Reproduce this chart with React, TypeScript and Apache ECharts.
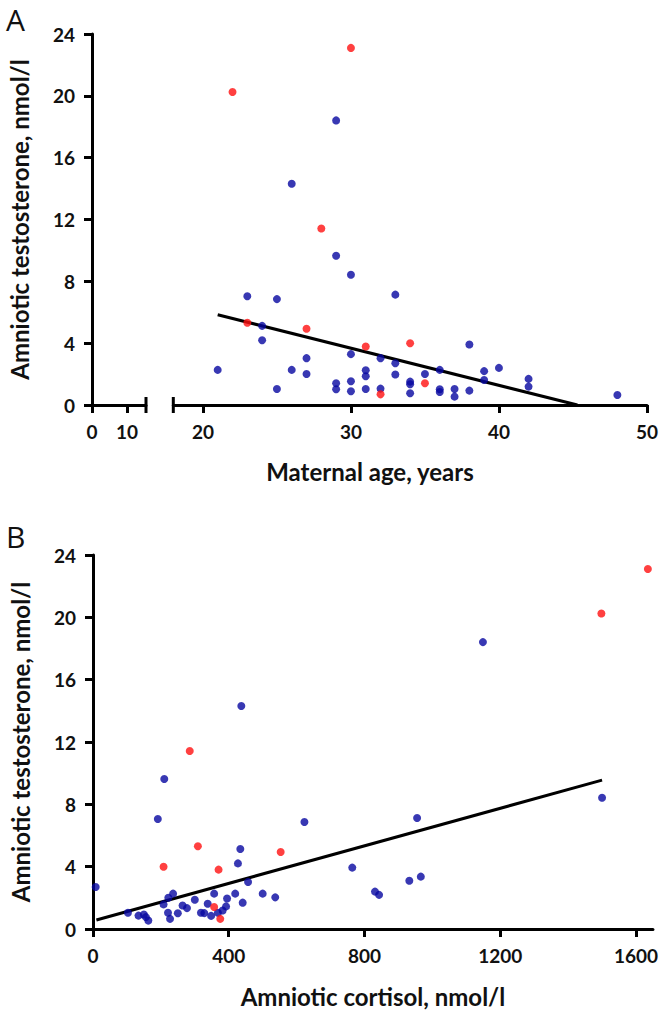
import React, { useEffect, useRef } from "react";
import * as echarts from "echarts";

// Panel A: maternal age (years) vs amniotic testosterone (nmol/l)
const ageBlue = [29, 26, 29, 30, 23, 25, 33, 24, 24, 21, 26, 27, 27, 25, 30, 29, 29, 30, 30, 31, 31, 31, 32, 32, 33, 33, 34, 34, 34, 35, 36, 36, 36, 37, 37, 38, 38, 39, 39, 40, 42, 42, 48];
const testBlueA = [18.41, 14.31, 9.66, 8.43, 7.03, 6.85, 7.14, 5.12, 4.19, 2.27, 2.27, 3.03, 2.01, 1.04, 3.29, 1.41, 1.02, 1.54, 0.89, 2.25, 1.86, 1.04, 3.03, 1.06, 2.7, 1.97, 1.51, 1.34, 0.76, 2.01, 2.27, 1.02, 0.84, 1.04, 0.54, 3.91, 0.93, 2.19, 1.62, 2.4, 1.69, 1.19, 0.65];
const ageRed = [22, 30, 28, 23, 27, 31, 34, 32, 35];
const testRedA = [20.25, 23.1, 11.42, 5.32, 4.93, 3.78, 4.0, 0.69, 1.41];
const regA = [[21.0, 5.84], [45.3, 0]];

// Panel B: amniotic cortisol (nmol/l) vs amniotic testosterone (nmol/l)
const cortBlue = [1149, 437, 210, 1500, 191, 623, 955, 434, 427, 764, 932, 966, 457, 8, 236, 357, 419, 500, 537, 222, 395, 300, 831, 843, 103, 134, 150, 156, 163, 208, 221, 227, 250, 264, 277, 318, 328, 338, 348, 368, 382, 392, 441];
const testBlueB = [18.41, 14.31, 9.63, 8.42, 7.06, 6.87, 7.12, 5.13, 4.21, 3.94, 3.1, 3.36, 3.02, 2.7, 2.27, 2.27, 2.27, 2.27, 2.03, 2.0, 1.96, 1.88, 2.4, 2.19, 1.04, 0.86, 0.93, 0.76, 0.54, 1.58, 1.04, 0.65, 1.01, 1.51, 1.34, 1.04, 1.02, 1.62, 0.84, 1.04, 1.19, 1.45, 1.69];
const cortRed = [1635, 1498, 285, 309, 553, 208, 370, 357, 375];
const testRedB = [23.1, 20.25, 11.42, 5.31, 4.94, 4.0, 3.81, 1.41, 0.65];
const regB = [[10, 0.58], [1500, 9.55]];

const yTicks = [0, 4, 8, 12, 16, 20, 24];
const xTicksA1 = [0, 10];
const xTicksA2 = [20, 30, 40, 50];
const xTicksB = [0, 400, 800, 1200, 1600];

const BLUE = "#0606a0";
const RED = "#ff1010";
const FONT = "Lato";

export default function App() {
  const ref = useRef<HTMLDivElement>(null);
  useEffect(() => {
    document.body.style.margin = "0";
    const chart = echarts.init(ref.current!, undefined, { renderer: "svg" });

    // layout (pixels)
    const topA = 34, botA = 405;
    const leftA1 = 92, rightA1 = 146;
    const leftA2 = 173.3, rightA2 = 647.5;
    const topB = 555, botB = 929;
    const leftB = 92, rightB = 653;

    const lbl = { fontFamily: FONT, fontWeight: "bold" as const, fontSize: 19, color: "#111", formatter: (v: number) => String(v) };
    const axisLine = { show: true, lineStyle: { color: "#000", width: 3 } };
    const axisTick = { show: true, length: 8, lineStyle: { color: "#000", width: 3 } };
    const nameStyle = { fontFamily: FONT, fontWeight: "bold" as const, fontSize: 24, color: "#111" };

    const xAxisBase = (min: number, max: number, ticks: number[], gridIndex: number) => ({
      type: "value",
      gridIndex,
      min,
      max,
      axisLine,
      axisTick: { ...axisTick, customValues: ticks },
      axisLabel: { ...lbl, margin: 17, customValues: ticks },
      splitLine: { show: false },
    });
    const yAxisBase = (gridIndex: number, show: boolean) => ({
      type: "value",
      gridIndex,
      min: 0,
      max: 24,
      interval: 4,
      show,
      axisLine,
      axisTick,
      axisLabel: { ...lbl, margin: 17, customValues: yTicks },
      splitLine: { show: false },
      name: show ? "Amniotic testosterone, nmol/l" : "",
      nameLocation: "middle",
      nameGap: 61,
      nameTextStyle: nameStyle,
    });

    const pts = (xs: number[], ys: number[]) => xs.map((x, i) => [x, ys[i]]);
    const scatter = (xs: number[], ys: number[], color: string, xi: number, yi: number) => ({
      type: "scatter",
      xAxisIndex: xi,
      yAxisIndex: yi,
      data: pts(xs, ys),
      symbolSize: 8,
      itemStyle: { color },
      z: 3,
    });
    const reg = (data: number[][], xi: number, yi: number) => ({
      type: "line",
      xAxisIndex: xi,
      yAxisIndex: yi,
      data,
      symbol: "none",
      lineStyle: { color: "#000", width: 3 },
      z: 2,
    });

    const breakMark = (x: number) => ({
      type: "line",
      shape: { x1: x, y1: botA - 8, x2: x, y2: botA + 8 },
      style: { stroke: "#000", lineWidth: 3 },
    });

    chart.setOption({
      animation: false,
      grid: [
        { left: leftA1, top: topA, width: rightA1 - leftA1, height: botA - topA },
        { left: leftA2, top: topA, width: rightA2 - leftA2, height: botA - topA },
        { left: leftB, top: topB, width: rightB - leftB, height: botB - topB },
      ],
      xAxis: [
        xAxisBase(0, 15.4, xTicksA1, 0),
        xAxisBase(18, 50, xTicksA2, 1),
        {
          ...xAxisBase(0, 1650, xTicksB, 2),
          name: "Amniotic cortisol, nmol/l",
          nameLocation: "middle",
          nameGap: 55,
          nameTextStyle: nameStyle,
        },
      ],
      yAxis: [yAxisBase(0, true), yAxisBase(1, false), yAxisBase(2, true)],
      series: [
        reg(regA, 1, 1),
        scatter(ageBlue, testBlueA, BLUE, 1, 1),
        scatter(ageRed, testRedA, RED, 1, 1),
        reg(regB, 2, 2),
        scatter(cortBlue, testBlueB, BLUE, 2, 2),
        scatter(cortRed, testRedB, RED, 2, 2),
      ],
      graphic: [
        breakMark(rightA1),
        breakMark(leftA2),
        {
          type: "text",
          x: 370,
          y: 471,
          style: { text: "Maternal age, years", ...nameStyle, fill: "#111", align: "center", verticalAlign: "middle" },
        },
        {
          type: "text",
          x: 6,
          y: 4,
          style: { text: "A", fontFamily: "Open Sans", fontSize: 30, fill: "#111" },
        },
        {
          type: "text",
          x: 6,
          y: 521,
          style: { text: "B", fontFamily: "Open Sans", fontSize: 30, fill: "#111" },
        },
      ],
    });
    return () => chart.dispose();
  }, []);
  return <div ref={ref} style={{ width: 661, height: 1010 }} />;
}
